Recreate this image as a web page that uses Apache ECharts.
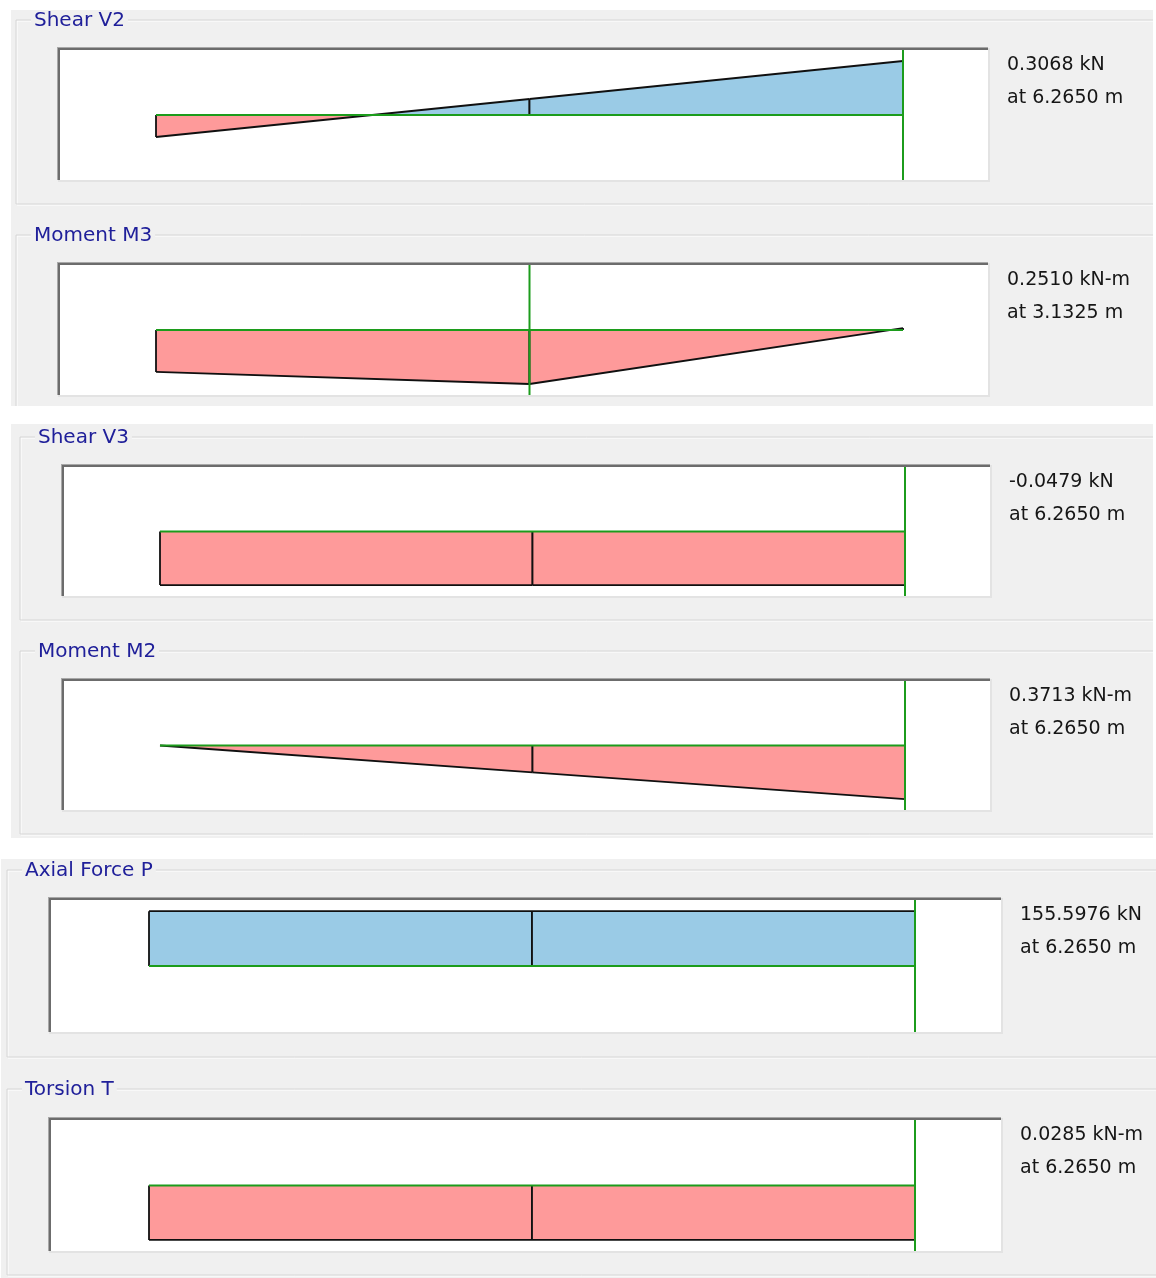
<!DOCTYPE html>
<html>
<head>
<meta charset="utf-8">
<title>Frame Force Diagrams</title>
<script src="https://cdn.jsdelivr.net/npm/echarts@6/dist/echarts.min.js"></script>
<style>
  html, body { margin: 0; padding: 0; background: #ffffff; }
  #c { width: 1156px; height: 1278px; }
</style>
</head>
<body>
<div id="c"></div>
<script>
// Output stations along the member (m)
const STATIONS = [0, 3.1325, 6.265];

// Force / moment values at each station
const SHEAR_V2  = [-0.1250, 0.0910, 0.3068];
const MOMENT_M3 = [0.1950, 0.2510, -0.0090];
const SHEAR_V3  = [-0.0479, -0.0479, -0.0479];
const MOMENT_M2 = [0.0000, 0.1860, 0.3713];
const AXIAL_P   = [155.5976, 155.5976, 155.5976];
const TORSION_T = [0.0285, 0.0285, 0.0285];

const TITLES = ['Shear V2', 'Moment M3', 'Shear V3', 'Moment M2', 'Axial Force P', 'Torsion T'];
const UNITS  = ['kN', 'kN-m', 'kN', 'kN-m', 'kN', 'kN-m'];
// Station index whose value is reported beside each diagram
const REPORT_AT = [2, 1, 2, 2, 2, 2];

const SERIES_VALUES = [SHEAR_V2, MOMENT_M3, SHEAR_V3, MOMENT_M2, AXIAL_P, TORSION_T];

// ---- layout (pixels) ----
const FONT = 'DejaVu Sans';
const GREEN = '#1c9c1c';
const BLUE = '#9acbe6';
const RED = '#fe9a9a';
const PANEL_BG = '#f0f0f0';

// gray group backgrounds
const GROUPS = [
  { x: 11, y: 10, w: 1142, h: 396 },
  { x: 11, y: 424, w: 1142, h: 414 },
  { x: 1, y: 859, w: 1155, h: 419 }
];

// per-diagram layout: plot box, beam extent on screen, frame, title, moment-style flip
const LAYOUT = [
  { box: [60, 50, 928, 130],  beam: [156, 903], frame: { x: 16, top: 20,  bottom: 204,  right: 1153 }, title: [34, 21],  flip: false },
  { box: [60, 265, 928, 130], beam: [156, 903], frame: { x: 16, top: 235, bottom: null, right: 1153 }, title: [34, 236], flip: true },
  { box: [64, 467, 926, 129], beam: [160, 905], frame: { x: 20, top: 437, bottom: 620,  right: 1153 }, title: [38, 438], flip: false },
  { box: [64, 681, 926, 129], beam: [160, 905], frame: { x: 20, top: 651, bottom: 834,  right: 1153 }, title: [38, 652], flip: true },
  { box: [51, 900, 950, 132], beam: [149, 915], frame: { x: 7,  top: 870, bottom: 1057, right: 1156 }, title: [25, 871], flip: false },
  { box: [51, 1120, 950, 131], beam: [149, 915], frame: { x: 7, top: 1089, bottom: 1275, right: 1156 }, title: [25, 1090], flip: true }
];

const L = STATIONS[STATIONS.length - 1];

// Draws one segment of a diagram: filled area (split at a zero crossing) and black outline
function renderSegment(params, api) {
  const x0 = api.value(0), v0 = api.value(1), x1 = api.value(2), v1 = api.value(3);
  const z0 = api.coord([x0, 0]), a0 = api.coord([x0, v0]);
  const z1 = api.coord([x1, 0]), a1 = api.coord([x1, v1]);
  const colorFor = (pt, zp) => (pt[1] < zp[1] ? BLUE : RED);
  const children = [];
  if (v0 * v1 < 0) {
    const xc = x0 + (v0 / (v0 - v1)) * (x1 - x0);
    const zc = api.coord([xc, 0]);
    children.push({ type: 'polygon', shape: { points: [z0, a0, zc] }, style: { fill: colorFor(a0, z0) } });
    children.push({ type: 'polygon', shape: { points: [zc, a1, z1] }, style: { fill: colorFor(a1, z1) } });
  } else {
    const ref = Math.abs(v0) >= Math.abs(v1) ? a0 : a1;
    children.push({ type: 'polygon', shape: { points: [z0, a0, a1, z1] }, style: { fill: colorFor(ref, z0) } });
  }
  const ink = { stroke: '#101010', lineWidth: 1.8, fill: null };
  children.push({ type: 'polyline', shape: { points: [a0, a1] }, style: ink });
  children.push({ type: 'line', shape: { x1: z0[0], y1: z0[1], x2: a0[0], y2: a0[1] }, style: ink });
  children.push({ type: 'line', shape: { x1: z1[0], y1: z1[1], x2: a1[0], y2: a1[1] }, style: ink });
  return { type: 'group', children: children };
}

const grids = [], xAxes = [], yAxes = [], series = [], graphics = [];

// group backgrounds
GROUPS.forEach(g => {
  graphics.push({ type: 'rect', z: 0, shape: { x: g.x, y: g.y, width: g.w, height: g.h }, style: { fill: PANEL_BG } });
});

LAYOUT.forEach((lay, i) => {
  const vals = SERIES_VALUES[i];
  const [bx, by, bw, bh] = lay.box;
  const [bs, be] = lay.beam;

  // etched group frame
  const f = lay.frame;
  const pts = f.bottom === null
    ? [[f.right, f.top], [f.x, f.top], [f.x, 406]]
    : [[f.right, f.top], [f.x, f.top], [f.x, f.bottom], [f.right, f.bottom]];
  const ptsHi = pts.map(p => [p[0] + 1, p[1] + 1]);
  graphics.push({ type: 'polyline', z: 1, shape: { points: ptsHi }, style: { stroke: '#ffffff', lineWidth: 1, fill: null } });
  graphics.push({ type: 'polyline', z: 1, shape: { points: pts }, style: { stroke: '#d6d6d6', lineWidth: 1, fill: null } });

  // title
  graphics.push({
    type: 'text', z: 1, x: lay.title[0] - 3, y: lay.title[1],
    style: {
      text: TITLES[i], fill: '#20209a', font: '20px "' + FONT + '"',
      verticalAlign: 'middle', backgroundColor: PANEL_BG, padding: [0, 3, 0, 3]
    }
  });

  // white plot box with sunken border
  graphics.push({ type: 'rect', z: 1, shape: { x: bx, y: by, width: bw, height: bh }, style: { fill: '#ffffff' } });
  graphics.push({ type: 'rect', z: 1, shape: { x: bx - 3, y: by - 3, width: bw + 3, height: 1 }, style: { fill: '#a8a8a8' } });
  graphics.push({ type: 'rect', z: 1, shape: { x: bx - 3, y: by - 3, width: 1, height: bh + 3 }, style: { fill: '#a8a8a8' } });
  graphics.push({ type: 'rect', z: 1, shape: { x: bx - 2, y: by - 2, width: bw + 2, height: 2 }, style: { fill: '#6c6c6c' } });
  graphics.push({ type: 'rect', z: 1, shape: { x: bx - 2, y: by - 2, width: 2, height: bh + 2 }, style: { fill: '#6c6c6c' } });
  graphics.push({ type: 'rect', z: 1, shape: { x: bx - 2, y: by + bh, width: bw + 4, height: 2 }, style: { fill: '#e3e3e3' } });
  graphics.push({ type: 'rect', z: 1, shape: { x: bx + bw, y: by - 2, width: 2, height: bh + 4 }, style: { fill: '#e3e3e3' } });

  // reported value
  const k = REPORT_AT[i];
  graphics.push({
    type: 'text', z: 1, x: bx + bw + 19, y: by + 15,
    style: { text: vals[k].toFixed(4) + ' ' + UNITS[i], fill: '#161616', font: '19px "' + FONT + '"', verticalAlign: 'middle' }
  });
  graphics.push({
    type: 'text', z: 1, x: bx + bw + 19, y: by + 48,
    style: { text: 'at ' + STATIONS[k].toFixed(4) + ' m', fill: '#161616', font: '19px "' + FONT + '"', verticalAlign: 'middle' }
  });

  // axes: beam spans its screen extent, zero line at the box's mid height
  const scale = L / (be - bs);
  const maxAbs = Math.max.apply(null, vals.map(Math.abs));
  const ylim = maxAbs * 65 / 54;
  grids.push({ left: bx, top: by, width: bw, height: bh, show: false });
  xAxes.push({ type: 'value', gridIndex: i, min: -(bs - bx) * scale, max: L + (bx + bw - be) * scale, show: false });
  yAxes.push({ type: 'value', gridIndex: i, min: -ylim, max: ylim, inverse: lay.flip, show: false });

  // diagram segments
  const segs = [];
  for (let s = 0; s < STATIONS.length - 1; s++) {
    segs.push([STATIONS[s], vals[s], STATIONS[s + 1], vals[s + 1]]);
  }
  series.push({
    type: 'custom', xAxisIndex: i, yAxisIndex: i, z: 2, silent: true,
    renderItem: renderSegment, data: segs, animation: false
  });

  // member reference (zero) line
  series.push({
    type: 'line', xAxisIndex: i, yAxisIndex: i, z: 3, silent: true, symbol: 'none', animation: false,
    lineStyle: { color: GREEN, width: 2 },
    data: [[STATIONS[0], 0], [L, 0]]
  });

  // location of the reported value
  series.push({
    type: 'line', xAxisIndex: i, yAxisIndex: i, z: 5, silent: true, symbol: 'none', animation: false,
    lineStyle: { color: GREEN, width: 2 },
    data: [[STATIONS[k], -ylim], [STATIONS[k], ylim]]
  });
});

const chart = echarts.init(document.getElementById('c'), null, { renderer: 'canvas' });
chart.setOption({
  animation: false,
  grid: grids,
  xAxis: xAxes,
  yAxis: yAxes,
  graphic: { elements: graphics },
  series: series
});
</script>
</body>
</html>
